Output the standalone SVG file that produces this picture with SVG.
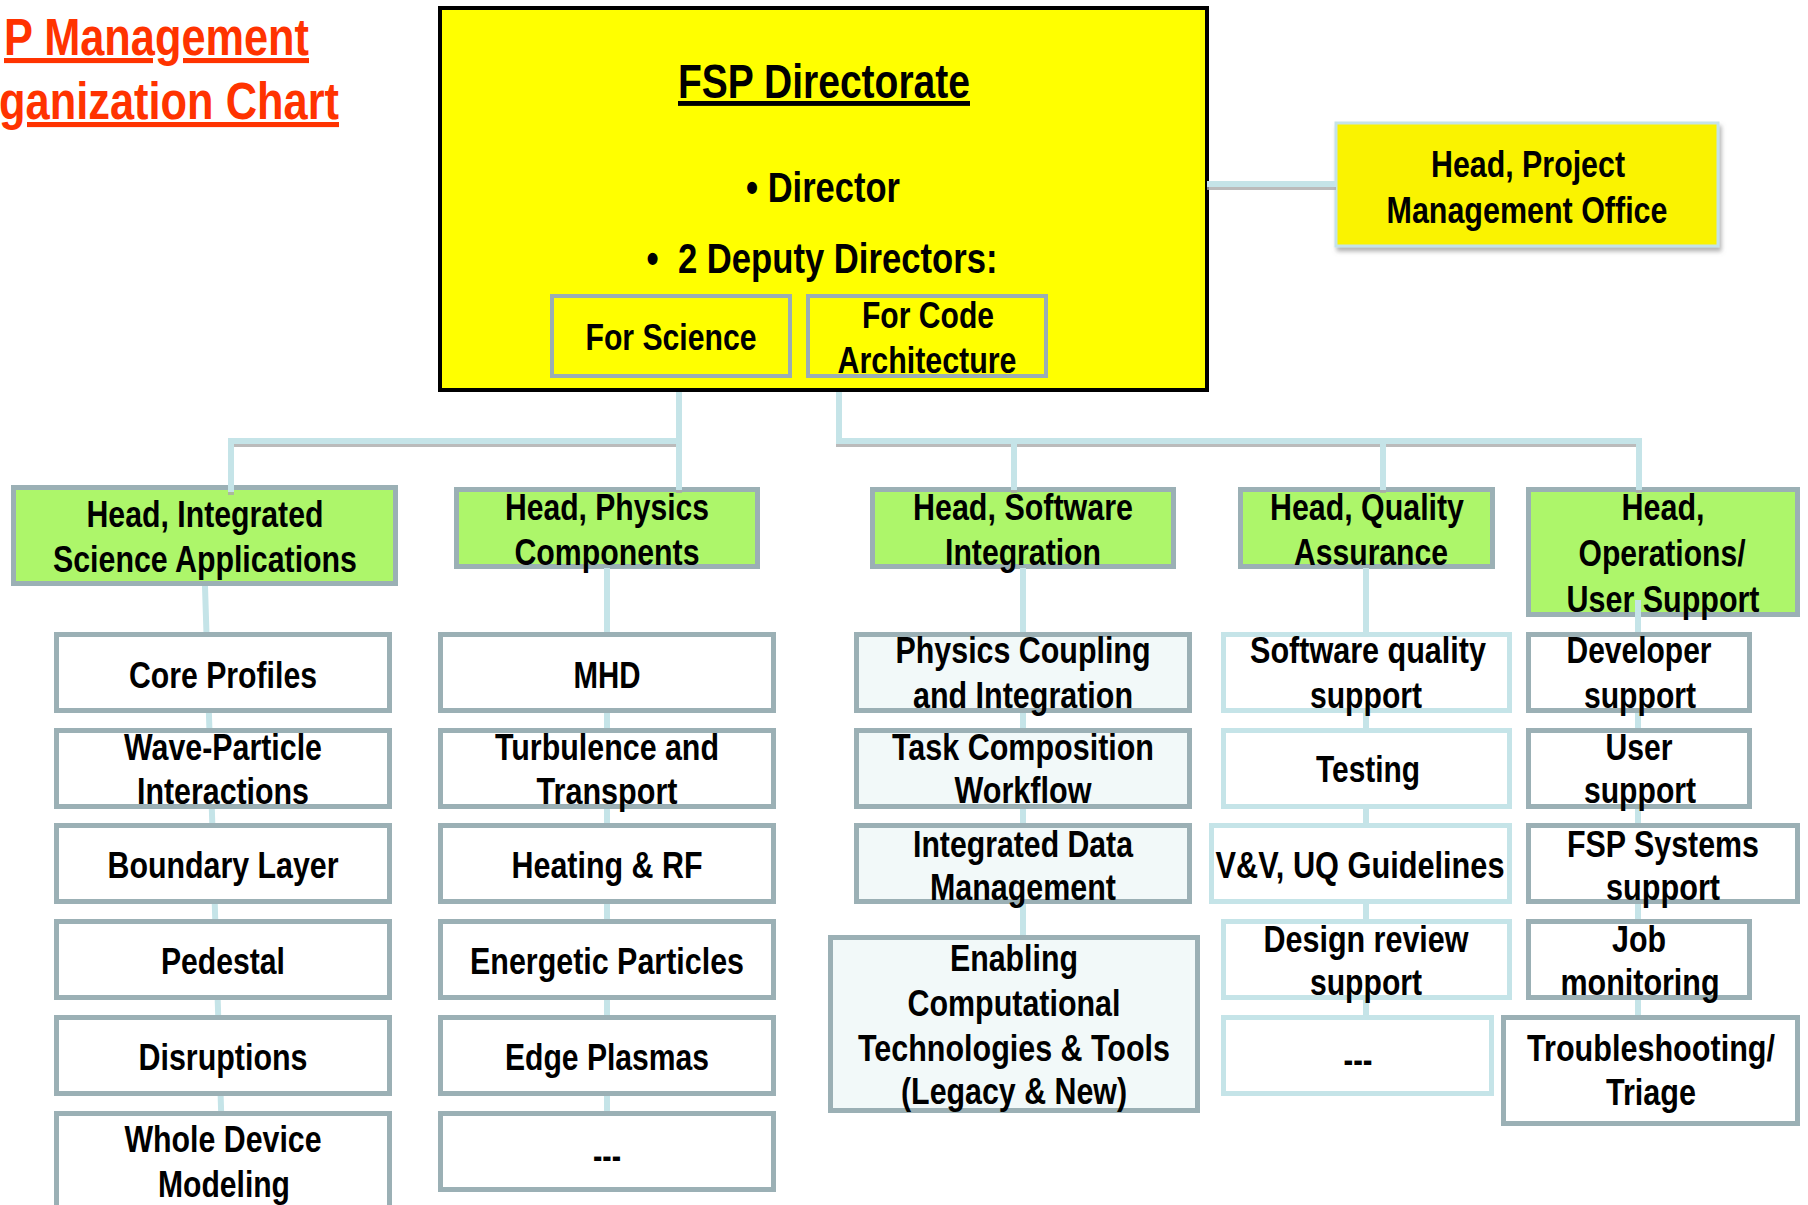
<svg xmlns="http://www.w3.org/2000/svg" width="1808" height="1205" viewBox="0 0 1808 1205">
<defs>
<filter id="sh" x="-10%" y="-10%" width="130%" height="140%"><feDropShadow dx="2" dy="4" stdDeviation="2" flood-color="#777" flood-opacity="0.55"/></filter>
<filter id="lsh" x="-5%" y="-50%" width="110%" height="200%"><feDropShadow dx="0" dy="3" stdDeviation="0.6" flood-color="#aaa" flood-opacity="0.8"/></filter>
</defs>
<style>
text{font-family:"Liberation Sans Narrow","Liberation Sans",Arial,sans-serif;font-weight:bold;fill:#000;text-anchor:middle}
.t3{font-size:37px}
.t2{font-size:36px}
.title{font-size:51px;fill:#FF3300;text-anchor:start;text-decoration:underline}
.main{fill:#FFFF00;stroke:#000;stroke-width:4}
.dep{fill:#FFFF00;stroke:#9AADB3;stroke-width:4}
.pmo{fill:#FAF300;stroke:#C5E3E8;stroke-width:3}
.g2{fill:#ADF66A;stroke:#9BB0B5;stroke-width:5}
.w{fill:#FFFFFF;stroke:#9BB0B5;stroke-width:5}
.lt{fill:#F2F9F9;stroke:#9BB0B5;stroke-width:5}
.qa{fill:#FFFFFF;stroke:#C5E4E8;stroke-width:5}
.cn{fill:none;stroke:#C5E4E8;stroke-width:6}
</style>

<g id="title">
<text class="title" x="4" y="55" textLength="305" lengthAdjust="spacingAndGlyphs">P Management</text>
<text class="title" x="-1" y="119" textLength="340" lengthAdjust="spacingAndGlyphs">ganization Chart</text>
</g>

<g id="directorate">
<rect class="main" x="440" y="8" width="767" height="382"/>
<text x="824" y="98" style="font-size:49px;text-decoration:underline" textLength="292" lengthAdjust="spacingAndGlyphs">FSP Directorate</text>
<text x="823" y="202" style="font-size:42px" textLength="154" lengthAdjust="spacingAndGlyphs">• Director</text>
<text x="822" y="273" style="font-size:42px" textLength="351" lengthAdjust="spacingAndGlyphs">•&#160; 2 Deputy Directors:</text>
</g>
<g id="for-science">
<rect class="dep" x="552" y="296" width="238" height="80"/>
<text class="t2" x="671" y="350" textLength="171" lengthAdjust="spacingAndGlyphs">For Science</text>
</g>
<g id="for-code">
<rect class="dep" x="808" y="296" width="238" height="80"/>
<text class="t2" x="928" y="328" textLength="132" lengthAdjust="spacingAndGlyphs">For Code</text>
<text class="t2" x="927" y="373" textLength="179" lengthAdjust="spacingAndGlyphs">Architecture</text>
</g>
<g id="pmo">
<rect class="pmo" x="1336" y="123" width="382" height="123" filter="url(#sh)"/>
<text class="t2" x="1528" y="177" textLength="194" lengthAdjust="spacingAndGlyphs">Head, Project</text>
<text class="t2" x="1527" y="223" textLength="281" lengthAdjust="spacingAndGlyphs">Management Office</text>
</g>

<g id="head-isa">
<rect class="g2" x="13.5" y="487.5" width="382" height="96"/>
<text class="t2" x="205" y="527" textLength="237" lengthAdjust="spacingAndGlyphs">Head, Integrated</text>
<text class="t2" x="205" y="572" textLength="304" lengthAdjust="spacingAndGlyphs">Science Applications</text>
</g>
<g id="head-pc">
<rect class="g2" x="456.5" y="489.5" width="301" height="77"/>
<text class="t2" x="607" y="520" textLength="204" lengthAdjust="spacingAndGlyphs">Head, Physics</text>
<text class="t2" x="607" y="565" textLength="185" lengthAdjust="spacingAndGlyphs">Components</text>
</g>
<g id="head-si">
<rect class="g2" x="872.5" y="489.5" width="301" height="77"/>
<text class="t2" x="1023" y="520" textLength="220" lengthAdjust="spacingAndGlyphs">Head, Software</text>
<text class="t2" x="1023" y="565" textLength="156" lengthAdjust="spacingAndGlyphs">Integration</text>
</g>
<g id="head-qa">
<rect class="g2" x="1240.5" y="489.5" width="252" height="77"/>
<text class="t2" x="1367" y="520" textLength="194" lengthAdjust="spacingAndGlyphs">Head, Quality</text>
<text class="t2" x="1371" y="565" textLength="154" lengthAdjust="spacingAndGlyphs">Assurance</text>
</g>
<g id="head-ops">
<rect class="g2" x="1528.5" y="489.5" width="269" height="125"/>
<text class="t2" x="1663" y="520" textLength="83" lengthAdjust="spacingAndGlyphs">Head,</text>
<text class="t2" x="1662" y="566" textLength="167" lengthAdjust="spacingAndGlyphs">Operations/</text>
<text class="t2" x="1663" y="612" textLength="193" lengthAdjust="spacingAndGlyphs">User Support</text>
</g>

<g id="connectors">
<g filter="url(#lsh)">
<path class="cn" d="M231 492 V441 H679"/>
<path class="cn" d="M679 392 V490"/>
<path class="cn" d="M839 392 V441 H1639 V490"/>
<path class="cn" d="M1014 441 V490"/>
<path class="cn" d="M1383 441 V490"/>
<path class="cn" d="M1207 184 H1336"/>
</g>
<path class="cn" d="M205 586 L224 1205"/>
<path class="cn" d="M607 568 V1112"/>
<path class="cn" d="M1023 568 V936"/>
<path class="cn" d="M1366 568 V1016"/>
<path class="cn" d="M1638 600 V1016"/>
</g>

<g id="core-profiles"><rect class="w" x="56.5" y="634.5" width="333" height="76"/>
<text class="t3" x="223" y="688" textLength="188" lengthAdjust="spacingAndGlyphs">Core Profiles</text></g>
<g id="wave-particle"><rect class="w" x="56.5" y="730.5" width="333" height="76"/>
<text class="t3" x="223" y="760" textLength="198" lengthAdjust="spacingAndGlyphs">Wave-Particle</text>
<text class="t3" x="223" y="804" textLength="172" lengthAdjust="spacingAndGlyphs">Interactions</text></g>
<g id="boundary-layer"><rect class="w" x="56.5" y="825.5" width="333" height="76"/>
<text class="t3" x="223" y="878" textLength="231" lengthAdjust="spacingAndGlyphs">Boundary Layer</text></g>
<g id="pedestal"><rect class="w" x="56.5" y="921.5" width="333" height="76"/>
<text class="t3" x="223" y="974" textLength="124" lengthAdjust="spacingAndGlyphs">Pedestal</text></g>
<g id="disruptions"><rect class="w" x="56.5" y="1017.5" width="333" height="76"/>
<text class="t3" x="223" y="1070" textLength="169" lengthAdjust="spacingAndGlyphs">Disruptions</text></g>
<g id="whole-device"><rect class="w" x="56.5" y="1113.5" width="333" height="100"/>
<text class="t3" x="223" y="1152" textLength="197" lengthAdjust="spacingAndGlyphs">Whole Device</text>
<text class="t3" x="224" y="1197" textLength="132" lengthAdjust="spacingAndGlyphs">Modeling</text></g>

<g id="mhd"><rect class="w" x="440.5" y="634.5" width="333" height="76"/>
<text class="t3" x="607" y="688" textLength="67" lengthAdjust="spacingAndGlyphs">MHD</text></g>
<g id="turbulence"><rect class="w" x="440.5" y="730.5" width="333" height="76"/>
<text class="t3" x="607" y="760" textLength="224" lengthAdjust="spacingAndGlyphs">Turbulence and</text>
<text class="t3" x="607" y="804" textLength="141" lengthAdjust="spacingAndGlyphs">Transport</text></g>
<g id="heating"><rect class="w" x="440.5" y="825.5" width="333" height="76"/>
<text class="t3" x="607" y="878" textLength="191" lengthAdjust="spacingAndGlyphs">Heating &amp; RF</text></g>
<g id="energetic"><rect class="w" x="440.5" y="921.5" width="333" height="76"/>
<text class="t3" x="607" y="974" textLength="274" lengthAdjust="spacingAndGlyphs">Energetic Particles</text></g>
<g id="edge"><rect class="w" x="440.5" y="1017.5" width="333" height="76"/>
<text class="t3" x="607" y="1070" textLength="204" lengthAdjust="spacingAndGlyphs">Edge Plasmas</text></g>
<g id="pc-more"><rect class="w" x="440.5" y="1113.5" width="333" height="76"/>
<text class="t3" x="607" y="1168" textLength="28" lengthAdjust="spacingAndGlyphs">---</text></g>

<g id="physics-coupling"><rect class="lt" x="856.5" y="634.5" width="333" height="76"/>
<text class="t3" x="1023" y="663" textLength="255" lengthAdjust="spacingAndGlyphs">Physics Coupling</text>
<text class="t3" x="1023" y="708" textLength="220" lengthAdjust="spacingAndGlyphs">and Integration</text></g>
<g id="task-composition"><rect class="lt" x="856.5" y="730.5" width="333" height="76"/>
<text class="t3" x="1023" y="760" textLength="262" lengthAdjust="spacingAndGlyphs">Task Composition</text>
<text class="t3" x="1023" y="803" textLength="137" lengthAdjust="spacingAndGlyphs">Workflow</text></g>
<g id="integrated-data"><rect class="lt" x="856.5" y="825.5" width="333" height="76"/>
<text class="t3" x="1023" y="857" textLength="220" lengthAdjust="spacingAndGlyphs">Integrated Data</text>
<text class="t3" x="1023" y="900" textLength="186" lengthAdjust="spacingAndGlyphs">Management</text></g>
<g id="enabling"><rect class="lt" x="830.5" y="937.5" width="367" height="173"/>
<text class="t3" x="1014" y="971" textLength="128" lengthAdjust="spacingAndGlyphs">Enabling</text>
<text class="t3" x="1014" y="1016" textLength="213" lengthAdjust="spacingAndGlyphs">Computational</text>
<text class="t3" x="1014" y="1061" textLength="312" lengthAdjust="spacingAndGlyphs">Technologies &amp; Tools</text>
<text class="t3" x="1014" y="1104" textLength="226" lengthAdjust="spacingAndGlyphs">(Legacy &amp; New)</text></g>

<g id="sw-quality"><rect class="qa" x="1223.5" y="634.5" width="286" height="76"/>
<text class="t3" x="1368" y="663" textLength="236" lengthAdjust="spacingAndGlyphs">Software quality</text>
<text class="t3" x="1366" y="708" textLength="112" lengthAdjust="spacingAndGlyphs">support</text></g>
<g id="testing"><rect class="qa" x="1223.5" y="730.5" width="286" height="76"/>
<text class="t3" x="1368" y="782" textLength="104" lengthAdjust="spacingAndGlyphs">Testing</text></g>
<g id="vv-uq"><rect class="qa" x="1211.5" y="825.5" width="298" height="76"/>
<text class="t3" x="1360" y="878" textLength="289" lengthAdjust="spacingAndGlyphs">V&amp;V, UQ Guidelines</text></g>
<g id="design-review"><rect class="qa" x="1223.5" y="921.5" width="286" height="76"/>
<text class="t3" x="1366" y="952" textLength="205" lengthAdjust="spacingAndGlyphs">Design review</text>
<text class="t3" x="1366" y="995" textLength="112" lengthAdjust="spacingAndGlyphs">support</text></g>
<g id="qa-more"><rect class="qa" x="1223.5" y="1017.5" width="268" height="76"/>
<text class="t3" x="1358" y="1072" textLength="29" lengthAdjust="spacingAndGlyphs">---</text></g>

<g id="developer-support"><rect class="w" x="1528.5" y="634.5" width="221" height="76"/>
<text class="t3" x="1639" y="663" textLength="145" lengthAdjust="spacingAndGlyphs">Developer</text>
<text class="t3" x="1640" y="708" textLength="112" lengthAdjust="spacingAndGlyphs">support</text></g>
<g id="user-support"><rect class="w" x="1528.5" y="730.5" width="221" height="76"/>
<text class="t3" x="1639" y="760" textLength="67" lengthAdjust="spacingAndGlyphs">User</text>
<text class="t3" x="1640" y="803" textLength="112" lengthAdjust="spacingAndGlyphs">support</text></g>
<g id="fsp-systems"><rect class="w" x="1528.5" y="825.5" width="269" height="76"/>
<text class="t3" x="1663" y="857" textLength="192" lengthAdjust="spacingAndGlyphs">FSP Systems</text>
<text class="t3" x="1663" y="900" textLength="114" lengthAdjust="spacingAndGlyphs">support</text></g>
<g id="job-monitoring"><rect class="w" x="1528.5" y="921.5" width="221" height="76"/>
<text class="t3" x="1639" y="952" textLength="54" lengthAdjust="spacingAndGlyphs">Job</text>
<text class="t3" x="1640" y="995" textLength="159" lengthAdjust="spacingAndGlyphs">monitoring</text></g>
<g id="troubleshooting"><rect class="w" x="1503.5" y="1017.5" width="294" height="106"/>
<text class="t3" x="1651" y="1061" textLength="248" lengthAdjust="spacingAndGlyphs">Troubleshooting/</text>
<text class="t3" x="1651" y="1105" textLength="90" lengthAdjust="spacingAndGlyphs">Triage</text></g>
</svg>
